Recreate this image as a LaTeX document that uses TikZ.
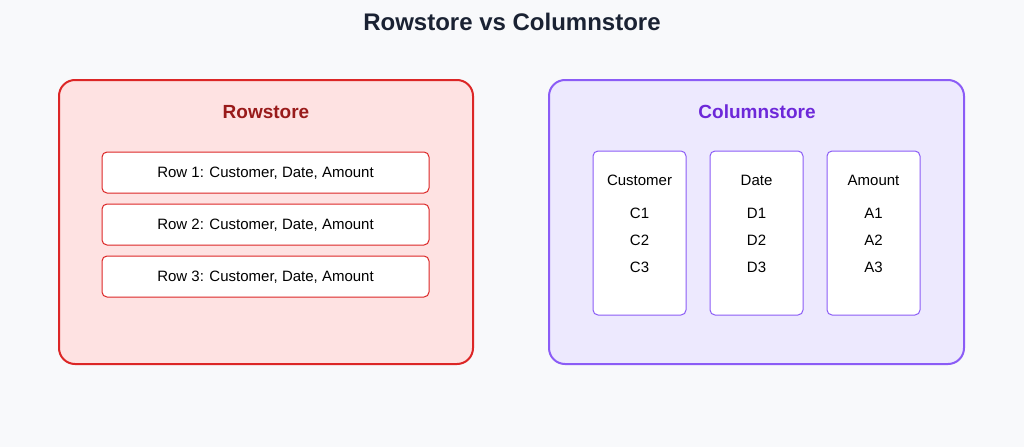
\documentclass[tikz,border=0pt]{standalone}
\usepackage{fontspec}
\setmainfont{Liberation Sans}
\definecolor{bg}{HTML}{F8F9FB}
\definecolor{ttl}{HTML}{1A2233}
\definecolor{rfill}{HTML}{FEE2E2}
\definecolor{rline}{HTML}{DC2626}
\definecolor{rtxt}{HTML}{991B1B}
\definecolor{cfill}{HTML}{EDE9FE}
\definecolor{cline}{HTML}{8B5CF6}
\definecolor{ctxt}{HTML}{6D28D9}
\begin{document}
\begin{tikzpicture}[x=1pt,y=-1pt,
  panel/.style={line width=2pt,rounded corners=16pt},
  box/.style={fill=white,line width=1pt,rounded corners=5pt},
  txt/.style={font=\fontsize{15}{18}\selectfont,text=black},
  head/.style={font=\fontsize{19}{23}\selectfont\bfseries}]
\fill[bg] (0,0) rectangle (1024,447);
\useasboundingbox (0,0) rectangle (1024,447);
\node[font=\fontsize{24}{29}\selectfont\bfseries,text=ttl] (title) at (512,22) {Rowstore vs Columnstore};
\draw[panel,fill=rfill,draw=rline] (59,80) rectangle (473,364);
\node[head,text=rtxt] (rh) at (266,112) {Rowstore};
\foreach \i/\y in {1/152,2/204,3/256}{
  \draw[box,draw=rline] (102,\y) rectangle (429,\y+41);
  \node[txt] (r\i) at (265.5,\y+21.5) {Row \i: Customer, Date, Amount};
}
\draw[panel,fill=cfill,draw=cline] (549,80) rectangle (964,364);
\node[head,text=ctxt] (ch) at (757,112) {Columnstore};
\foreach \x/\h/\l in {593/Customer/C,710/Date/D,827/Amount/A}{
  \draw[box,draw=cline] (\x,151) rectangle (\x+93,315);
  \node[txt] (h\l) at (\x+46.5,180) {\h};
  \node[txt] (\l1) at (\x+46.5,213) {\l1};
  \node[txt] (\l2) at (\x+46.5,240) {\l2};
  \node[txt] (\l3) at (\x+46.5,267) {\l3};
}
\end{tikzpicture}
\end{document}
